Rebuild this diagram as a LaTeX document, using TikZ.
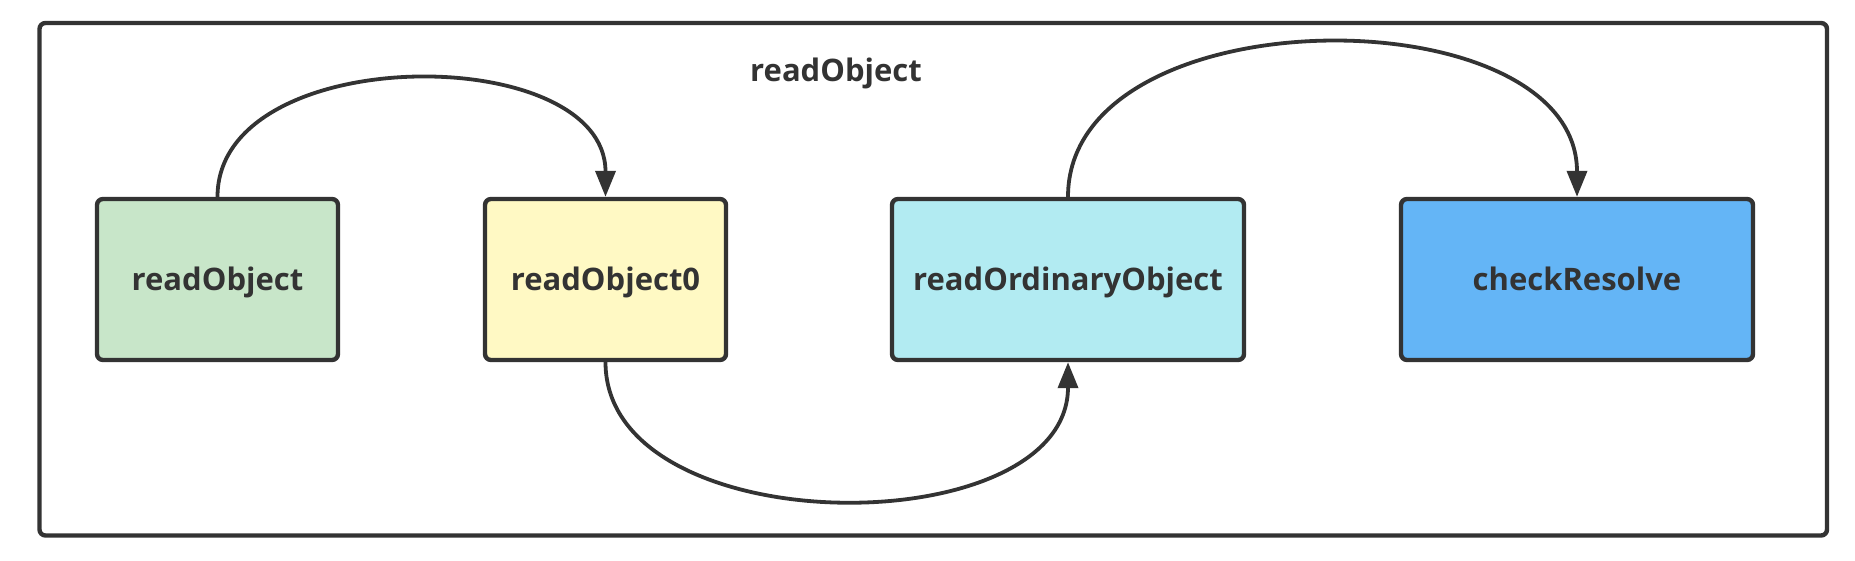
\documentclass[tikz,border=0pt]{standalone}
\usepackage{fontspec}
\setmainfont{Open Sans}
\usepackage{tikz}
\usetikzlibrary{arrows.meta,positioning}
\definecolor{ink}{HTML}{333333}
\definecolor{greenfill}{HTML}{C8E6C9}
\definecolor{yellowfill}{HTML}{FFF9C4}
\definecolor{cyanfill}{HTML}{B2EBF2}
\definecolor{bluefill}{HTML}{64B5F6}
\tikzset{
  fn/.style={draw=ink,line width=2.2pt,rounded corners=3pt,minimum height=80.5pt,
    text=ink,font=\fontsize{15.5}{18}\selectfont\bfseries,
    text height=11pt,text depth=0.5pt},
  call/.style={draw=ink,line width=1.9pt,-{Triangle[length=13pt,width=10pt]}},
}

\begin{document}
\begin{tikzpicture}[x=0.5pt,y=-0.5pt]
\useasboundingbox (0,0) rectangle (1855,561);
%%%%% frame:
\draw[ink,line width=2.2pt,rounded corners=3pt] (39.5,23) rectangle (1827,535.5);
\node[anchor=base,text=ink,font=\fontsize{15.5}{18}\selectfont\bfseries] (title) at (836,81.5) {readObject};
%%%%% steps:
\node[fn,fill=greenfill,minimum width=120.5pt]  (rObj)  at (217.5,279.5) {readObject};
\node[fn,fill=yellowfill,minimum width=120.5pt] (rObj0) at (605.5,279.5) {readObject0};
\node[fn,fill=cyanfill,minimum width=176pt]     (rOrd)  at (1068,279.5)  {readOrdinaryObject};
\node[fn,fill=bluefill,minimum width=176pt]     (chk)   at (1577,279.5)  {checkResolve};
%%%%% calls:
\draw[call] (rObj.north)  .. controls ++(0,-156) and ++(0,-156) .. (rObj0.north);
\draw[call] (rObj0.south) .. controls ++(0,183) and ++(0,183) .. (rOrd.south);
\draw[call] (rOrd.north)  .. controls ++(0,-204) and ++(0,-204) .. (chk.north);
\end{tikzpicture}
\end{document}
